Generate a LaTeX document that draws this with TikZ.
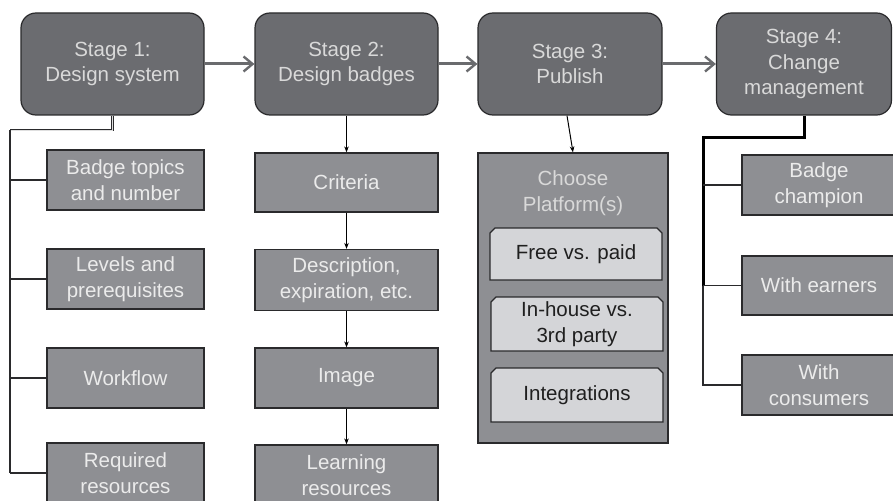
\documentclass[tikz,border=0pt]{standalone}
\usepackage{fontspec}
\setmainfont{Liberation Sans}
\usetikzlibrary{arrows.meta}
\definecolor{stagefill}{HTML}{6B6C70}
\definecolor{subfill}{HTML}{8E8F93}
\definecolor{platefill}{HTML}{D4D5D8}
\definecolor{edge}{HTML}{2A2A2C}
\definecolor{flowgray}{HTML}{6A6B6E}
\begin{document}
\begin{tikzpicture}[x=1pt,y=-1pt,
  every node/.style={font=\fontsize{20.5}{25.5}\selectfont, align=center, inner sep=0pt},
  stagebox/.style={draw=edge, line width=1.2pt, fill=stagefill, rounded corners=15pt,
    text=white!85!black},
  subbox/.style={draw=edge, line width=1.2pt, fill=subfill, text=white!92!black},
  platebox/.style={draw=edge, line width=1.1pt, fill=platefill},
  flow/.style={draw=flowgray, line width=3pt, -{Straight Barb[length=9pt,width=15pt,line width=2.4pt]}},
  down/.style={draw=black, line width=1pt, -{Stealth[length=6pt,width=4.5pt]}},
  trunk/.style={draw=edge, line width=1.1pt},
]
\useasboundingbox (0,0) rectangle (893,500);

% Stages
\node[stagebox, minimum width=183pt, minimum height=102pt] (s1) at (112.5,64) {Stage 1:\\Design system};
\node[stagebox, minimum width=183pt, minimum height=102pt] (s2) at (346.5,64) {Stage 2:\\Design badges};
\node[stagebox, minimum width=184pt, minimum height=102pt] (s3) at (570,64) {Stage 3:\\Publish};
\node[stagebox, minimum width=175pt, minimum height=102pt] (s4) at (804,64) {Stage 4:\\Change\\management};

\draw[flow] (s1.east) -- (s2.west);
\draw[flow] (s2.east) -- (s3.west);
\draw[flow] (s3.east) -- (s4.west);

% Stage 1 items
\node[subbox, minimum width=157pt, minimum height=60pt] (a1) at (125.5,180) {Badge topics\\and number};
\node[subbox, minimum width=157pt, minimum height=60pt] (a2) at (125.5,279) {Levels and\\prerequisites};
\node[subbox, minimum width=157pt, minimum height=60pt] (a3) at (125.5,378) {Workflow};
\node[subbox, minimum width=157pt, minimum height=60pt] (a4) at (125.5,473) {Required\\resources};

\coordinate (t1) at (10,130);
\coordinate (t1end) at (10,473);
\draw[draw=edge, line width=0.8pt, double=white!75!gray, double distance=0.9pt]
  (s1.south) |- (t1);
\draw[trunk] (t1) -- (t1end);
\draw[trunk] (t1 |- a1.west) -- (a1.west);
\draw[trunk] (t1 |- a2.west) -- (a2.west);
\draw[trunk] (t1 |- a3.west) -- (a3.west);
\draw[trunk] (t1end) -- (a4.west);

% Stage 2 items
\node[subbox, minimum width=183pt, minimum height=59pt] (b1) at (346.5,182.5) {Criteria};
\node[subbox, minimum width=183pt, minimum height=61pt] (b2) at (346.5,280) {Description,\\expiration, etc.};
\node[subbox, minimum width=183pt, minimum height=60pt] (b3) at (346.5,378) {Image};
\node[subbox, minimum width=183pt, minimum height=60pt] (b4) at (346.5,475) {Learning\\resources};

\draw[down] (s2.south) -- (b1.north);
\draw[down] (b1) -- (b2);
\draw[down] (b2) -- (b3);
\draw[down] (b3) -- (b4);

% Stage 3 platform panel
\node[subbox, minimum width=190pt, minimum height=290pt] (pl) at (573,298) {};
\node[text=white!85!black] (plt) at (573,193) {Choose\\Platform(s)};
\draw[down] ([xshift=-3pt]s3.south) -- (pl.north);

\draw[platebox] (490,280) -- (490,233) -- (495,228) -- (657,228) -- (662,233) -- (662,280) -- cycle;
\node[text=black!88] (c1) at (576,254) {Free vs. paid};
\draw[platebox] (491,351) -- (491,302) -- (496,297) -- (658,297) -- (663,302) -- (663,351) -- cycle;
\node[text=black!88] (c2) at (577,324) {In-house vs.\\3rd party};
\draw[platebox] (491,422) -- (491,373) -- (496,368) -- (658,368) -- (663,373) -- (663,422) -- cycle;
\node[text=black!88] (c3) at (577,395) {Integrations};

% Stage 4 items
\node[subbox, minimum width=154pt, minimum height=60pt] (d1) at (819,185) {Badge\\champion};
\node[subbox, minimum width=154pt, minimum height=59pt] (d2) at (819,285.5) {With earners};
\node[subbox, minimum width=154pt, minimum height=60pt] (d3) at (819,385) {With\\consumers};

\coordinate (t4) at (703,137);
\draw[draw=black, line width=3pt] (s4.south) |- (t4) -- (t4 |- d2.west);
\draw[trunk] (t4 |- d2.west) -- (t4 |- d3.west) -- (d3.west);
\draw[trunk] (t4 |- d1.west) -- (d1.west);
\draw[trunk] (t4 |- d2.west) -- (d2.west);
\end{tikzpicture}
\end{document}
